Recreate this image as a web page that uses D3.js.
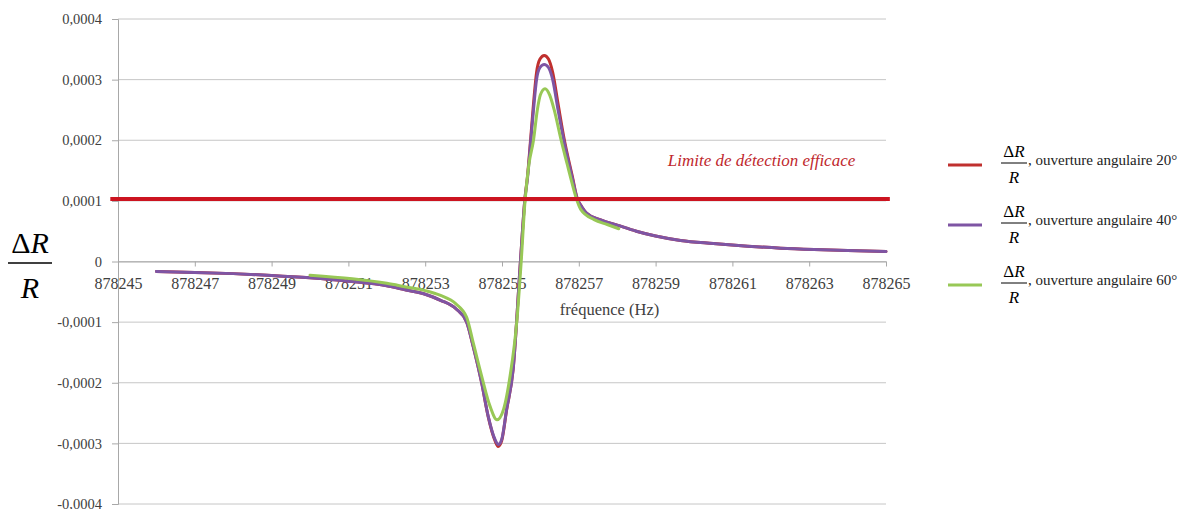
<!DOCTYPE html>
<html>
<head>
<meta charset="utf-8">
<script src="https://cdn.jsdelivr.net/npm/d3@7"></script>
<style>
  body { margin: 0; background: #fff; }
  svg { display: block; }
  svg text { font-family: "Liberation Serif", "Times New Roman", serif; }
</style>
</head>
<body>
<svg id="chart"></svg>
<script>
// frequencies (Hz) and dR/R values
const freq40 = [878246.0, 878247.0, 878248.0, 878249.0, 878250.0, 878251.0, 878252.0, 878252.5, 878253.0, 878253.4,
  878253.8, 878254.08, 878254.25, 878254.47, 878254.64, 878254.82, 878254.9, 878254.99, 878255.12, 878255.29,
  878255.48, 878255.6, 878255.66, 878255.75, 878255.82, 878255.9, 878255.99, 878256.1, 878256.21, 878256.32,
  878256.46, 878256.61, 878256.84, 878256.95, 878257.08, 878257.2, 878257.55, 878258.0, 878258.5, 878259.0,
  878259.65, 878260.5, 878261.4, 878262.26, 878263.13, 878264.0, 878265.0];
const val40 = [-0.0000165, -0.000018, -0.00002, -0.000023, -0.000027, -0.0000325, -0.00004, -0.000047, -0.000054, -0.000064,
  -0.000078, -0.0001, -0.00014, -0.0002, -0.000255, -0.000294, -0.000302, -0.000294, -0.000244, -0.000178,
  0, 0.000105, 0.000135, 0.0002, 0.00025, 0.0003, 0.00032, 0.000325, 0.00032, 0.0003,
  0.00025, 0.0002, 0.000135, 0.000105, 0.00009, 0.00008, 0.000069, 0.00006, 0.00005, 0.000042,
  0.0000347, 0.0000297, 0.0000253, 0.000022, 0.0000198, 0.0000182, 0.0000165];

// 20 degrees: almost the same curve, only a touch higher at the peak and lower at the dip
const freq20 = freq40;
const val20 = [-0.0000165, -0.000018, -0.00002, -0.000023, -0.000027, -0.0000325, -0.00004, -0.000047, -0.000054, -0.000064,
  -0.000078, -0.0001, -0.00014, -0.0002, -0.000256, -0.000296, -0.000305, -0.000296, -0.000245, -0.000178,
  0, 0.000106, 0.000138, 0.000205, 0.00026, 0.000312, 0.000334, 0.00034, 0.000334, 0.000312,
  0.00026, 0.000205, 0.000138, 0.000106, 0.00009, 0.00008, 0.000069, 0.00006, 0.00005, 0.000042,
  0.0000347, 0.0000297, 0.0000253, 0.000022, 0.0000198, 0.0000182, 0.0000165];

const freq60 = [878250.0, 878251.1, 878252.0, 878252.5, 878253.0, 878253.4, 878253.8, 878254.08, 878254.25, 878254.47,
  878254.69, 878254.87, 878255.04, 878255.21, 878255.39, 878255.5, 878255.6, 878255.7, 878255.82, 878255.92,
  878256.0, 878256.12, 878256.24, 878256.36, 878256.54, 878256.7, 878256.8, 878256.93, 878257.05, 878257.4,
  878257.74, 878258.04];
const val60 = [-0.0000225, -0.0000285, -0.000036, -0.000042, -0.000048, -0.000056, -0.00007, -0.000092, -0.000134, -0.000189,
  -0.000239, -0.000261, -0.000244, -0.000189, -0.000096, 0, 0.0001, 0.00016, 0.0002, 0.00025,
  0.000275, 0.000285, 0.000275, 0.00025, 0.0002, 0.00016, 0.000135, 0.000105, 0.000086, 0.000069,
  0.000061, 0.000054];

// detection threshold
const thresholdValue = 0.000103;
const thresholdFreq = [878244.8, 878265.1];
const thresholdLabel = "Limite de détection efficace";

const xTicks = [878245, 878247, 878249, 878251, 878253, 878255, 878257, 878259, 878261, 878263, 878265];
const yTicks = [-0.0004, -0.0003, -0.0002, -0.0001, 0, 0.0001, 0.0002, 0.0003, 0.0004];
const yTickLabels = ["-0,0004", "-0,0003", "-0,0002", "-0,0001", "0", "0,0001", "0,0002", "0,0003", "0,0004"];

const seriesNames = ["ouverture angulaire 20°", "ouverture angulaire 40°", "ouverture angulaire 60°"];
const seriesColors = ["#c0302e", "#7e55a4", "#98c856"];

const SERIF = "Liberation Serif";

const width = 1195, height = 509;
const margin = {top: 19, right: 309, bottom: 5, left: 118};
const innerW = width - margin.left - margin.right;
const innerH = height - margin.top - margin.bottom;

const svg = d3.select("#chart").attr("width", width).attr("height", height);
const chart = svg.append("g").attr("transform", `translate(${margin.left},${margin.top})`);

const xScale = d3.scaleLinear().domain([878245, 878265]).range([0, innerW]);
const yScale = d3.scaleLinear().domain([-0.0004, 0.0004]).range([innerH, 0]);

// horizontal gridlines
chart.append("g").selectAll("line")
  .data(yTicks)
  .join("line")
    .attr("x1", 0).attr("x2", innerW)
    .attr("y1", d => yScale(d)).attr("y2", d => yScale(d))
    .attr("stroke", "#c6c6c6").attr("stroke-width", 1);

// y axis
const yAxis = d3.axisLeft(yScale)
  .tickValues(yTicks)
  .tickSize(6)
  .tickPadding(10)
  .tickFormat((d, i) => yTickLabels[i]);
const yAxisGroup = chart.append("g").attr("class", "axis y-axis").call(yAxis)
  .attr("font-family", SERIF);
yAxisGroup.select(".domain").attr("stroke", "#a8a8a8");
yAxisGroup.selectAll(".tick line").attr("stroke", "#a8a8a8");
yAxisGroup.selectAll("text")
  .style("font-family", SERIF)
  .style("font-size", "14.5px").attr("fill", "#404040");

// x axis sits on the zero line
const xAxis = d3.axisBottom(xScale)
  .tickValues(xTicks)
  .tickSize(5)
  .tickPadding(11)
  .tickSizeOuter(0)
  .tickFormat(d => d);
const xAxisGroup = chart.append("g").attr("class", "axis x-axis")
  .attr("transform", `translate(0,${yScale(0)})`)
  .call(xAxis)
  .attr("font-family", SERIF);
xAxisGroup.select(".domain").attr("stroke", "#a8a8a8");
xAxisGroup.selectAll(".tick line").attr("stroke", "#a8a8a8");
xAxisGroup.selectAll("text")
  .style("font-family", SERIF)
  .style("font-size", "16px").attr("fill", "#404040");

chart.append("text")
  .attr("x", xScale(878257.8)).attr("y", yScale(0) + 53)
  .attr("text-anchor", "middle")
  .style("font-family", SERIF).style("font-size", "16.5px").attr("fill", "#404040")
  .text("fréquence (Hz)");

// curves
const line = d3.line()
  .x(d => xScale(d[0]))
  .y(d => yScale(d[1]))
  .curve(d3.curveMonotoneX);

const series = [
  d3.zip(freq20, val20),
  d3.zip(freq40, val40),
  d3.zip(freq60, val60)
];

chart.append("g").selectAll("path")
  .data(series)
  .join("path")
    .attr("d", line)
    .attr("fill", "none")
    .attr("stroke", (d, i) => seriesColors[i])
    .attr("stroke-width", 3)
    .attr("stroke-linejoin", "round")
    .attr("stroke-linecap", "round");

// threshold line and label
chart.append("line")
  .attr("x1", xScale(thresholdFreq[0])).attr("x2", xScale(thresholdFreq[1]))
  .attr("y1", yScale(thresholdValue)).attr("y2", yScale(thresholdValue))
  .attr("stroke", "#cc1420").attr("stroke-width", 4);

chart.append("text")
  .attr("x", xScale(878264.2)).attr("y", yScale(thresholdValue) - 33)
  .attr("text-anchor", "end")
  .style("font-family", SERIF).style("font-size", "17px").style("font-style", "italic")
  .attr("fill", "#c0272d")
  .text(thresholdLabel);

// helper: dR/R fraction
function fraction(g, cx, yBar, size, barW) {
  const num = g.append("text")
    .attr("x", cx).attr("y", yBar - size * 0.33)
    .attr("text-anchor", "middle")
    .style("font-family", SERIF).style("font-size", size + "px").attr("fill", "#000");
  num.append("tspan").text("Δ");
  num.append("tspan").style("font-style", "italic").text("R");
  g.append("line")
    .attr("x1", cx - barW / 2).attr("x2", cx + barW / 2)
    .attr("y1", yBar).attr("y2", yBar)
    .attr("stroke", "#000").attr("stroke-width", Math.max(1, size / 20));
  g.append("text")
    .attr("x", cx).attr("y", yBar + size * 1.15)
    .attr("text-anchor", "middle")
    .style("font-family", SERIF).style("font-size", size + "px")
    .style("font-style", "italic").attr("fill", "#000")
    .text("R");
}

// y axis title
fraction(svg.append("g"), 30, 263, 30, 44);

// legend
const legendY = [165, 225, 285];
const legend = svg.append("g");
seriesNames.forEach((name, i) => {
  const g = legend.append("g");
  g.append("line")
    .attr("x1", 948).attr("x2", 982)
    .attr("y1", legendY[i]).attr("y2", legendY[i])
    .attr("stroke", seriesColors[i]).attr("stroke-width", 3);
  fraction(g, 1014, legendY[i] - 2, 17, 26);
  g.append("text")
    .attr("x", 1028).attr("y", legendY[i])
    .style("font-family", SERIF).style("font-size", "15px").attr("fill", "#222")
    .text(", " + name);
});
</script>
</body>
</html>
